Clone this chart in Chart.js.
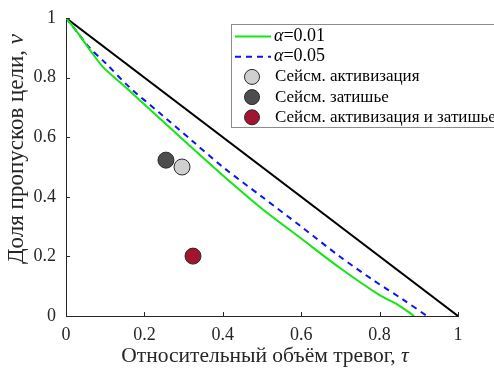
<!DOCTYPE html>
<html>
<head>
<meta charset="utf-8">
<script src="https://cdn.jsdelivr.net/npm/chart.js@4"></script>
<style>
  html, body { margin: 0; padding: 0; background: #fff; overflow: hidden; }
</style>
</head>
<body>
<canvas id="chart" width="494" height="369"></canvas>
<script>
// curves
const alpha01X = [0, 0.03, 0.06, 0.094, 0.15, 0.235, 0.3, 0.393, 0.5, 0.6, 0.699, 0.8, 0.85, 0.888];
const alpha01Y = [1, 0.95, 0.895, 0.836, 0.77, 0.668, 0.59, 0.48, 0.36, 0.26, 0.161, 0.07, 0.035, 0];
const alpha05X = [0, 0.03, 0.06, 0.1, 0.16, 0.24, 0.32, 0.4, 0.5, 0.6, 0.7, 0.783, 0.86, 0.921];
const alpha05Y = [1, 0.95, 0.9, 0.85, 0.77, 0.68, 0.59, 0.5, 0.4, 0.3, 0.198, 0.121, 0.055, 0];
const diagX = [0, 1];
const diagY = [1, 0];

// events
const eventLabels = ['Сейсм. активизация', 'Сейсм. затишье', 'Сейсм. активизация и затишье'];
const eventX = [0.296, 0.255, 0.324];
const eventY = [0.50, 0.523, 0.201];
const eventColors = ['#cfcfcf', '#4d4d4d', '#a2142f'];

const xTicks = [0, 0.2, 0.4, 0.6, 0.8, 1];
const yTicks = [0, 0.2, 0.4, 0.6, 0.8, 1];

// axis titles: plain part + italic symbol
const xTitle = ['Относительный объём тревог, ', 'τ'];
const yTitle = ['Доля пропусков цели, ', 'ν'];

const FONT = 'Liberation Serif';
const AXIS = '#262626';

Chart.defaults.font.family = FONT;

function pairs(xs, ys) {
    return xs.map((x, i) => ({ x: x, y: ys[i] }));
}

const datasets = [
    { label: 'α=0.01', data: pairs(alpha01X, alpha01Y), borderColor: '#14e614', borderWidth: 2, pointRadius: 0, tension: 0.3, showLine: true, fill: false },
    { label: 'α=0.05', data: pairs(alpha05X, alpha05Y), borderColor: '#0a14f0', borderWidth: 2, borderDash: [6, 5], pointRadius: 0, tension: 0.3, showLine: true, fill: false },
    { label: '', data: pairs(diagX, diagY), borderColor: '#000', borderWidth: 2, pointRadius: 0, showLine: true, fill: false, noLegend: true }
];
// dark one first so the light one sits on top, as in the picture
[1, 0, 2].forEach(i => {
    datasets.push({
        label: eventLabels[i],
        data: [{ x: eventX[i], y: eventY[i] }],
        backgroundColor: eventColors[i],
        borderColor: '#2a2a2a',
        borderWidth: 1,
        pointRadius: 8,
        showLine: false,
        legendOrder: i
    });
});

// inward tick marks
const innerTicks = {
    id: 'innerTicks',
    afterDraw(chart) {
        const ctx = chart.ctx;
        const a = chart.chartArea;
        ctx.save();
        ctx.strokeStyle = AXIS;
        ctx.lineWidth = 1;
        xTicks.forEach(v => {
            const px = Math.round(chart.scales.x.getPixelForValue(v)) + 0.5;
            ctx.beginPath();
            ctx.moveTo(px, a.bottom);
            ctx.lineTo(px, a.bottom - 4);
            ctx.stroke();
        });
        yTicks.forEach(v => {
            const py = Math.round(chart.scales.y.getPixelForValue(v)) + 0.5;
            ctx.beginPath();
            ctx.moveTo(a.left, py);
            ctx.lineTo(a.left + 4, py);
            ctx.stroke();
        });
        ctx.restore();
    }
};

// titles with an italic symbol at the end
function drawMixed(ctx, parts, size) {
    ctx.font = size + 'px "' + FONT + '"';
    const w1 = ctx.measureText(parts[0]).width;
    ctx.font = 'italic ' + size + 'px "' + FONT + '"';
    const w2 = ctx.measureText(parts[1]).width;
    const start = -(w1 + w2) / 2;
    ctx.font = size + 'px "' + FONT + '"';
    ctx.fillText(parts[0], start, 0);
    ctx.font = 'italic ' + size + 'px "' + FONT + '"';
    ctx.fillText(parts[1], start + w1, 0);
}

const axisTitles = {
    id: 'axisTitles',
    afterDraw(chart) {
        const ctx = chart.ctx;
        ctx.save();
        ctx.fillStyle = AXIS;
        ctx.textAlign = 'left';
        ctx.textBaseline = 'middle';
        ctx.save();
        ctx.translate(265, 356);
        drawMixed(ctx, xTitle, 21.5);
        ctx.restore();
        ctx.save();
        ctx.translate(17, 149);
        ctx.rotate(-Math.PI / 2);
        drawMixed(ctx, yTitle, 23);
        ctx.restore();
        ctx.restore();
    }
};

// boxed legend in the upper right, running off the canvas edge
const boxLegend = {
    id: 'boxLegend',
    afterDraw(chart) {
        const ctx = chart.ctx;
        const left = 231, top = 24, h = 103;
        ctx.save();
        ctx.fillStyle = '#fff';
        ctx.fillRect(left, top, 400, h);
        ctx.strokeStyle = '#8c8c8c';
        ctx.lineWidth = 1;
        ctx.strokeRect(left + 0.5, top + 0.5, 400, h);

        const items = chart.data.datasets.filter(ds => !ds.noLegend);
        items.sort((p, q) => {
            const a = p.showLine ? -1 : p.legendOrder;
            const b = q.showLine ? -1 : q.legendOrder;
            return a - b;
        });
        let y = 36.5;
        ctx.textBaseline = 'middle';
        items.forEach(ds => {
            if (ds.showLine) {
                ctx.strokeStyle = ds.borderColor;
                ctx.lineWidth = ds.borderWidth;
                ctx.setLineDash(ds.borderDash || []);
                ctx.beginPath();
                ctx.moveTo(235, y);
                ctx.lineTo(271, y);
                ctx.stroke();
                ctx.setLineDash([]);
                const parts = ds.label.split('=');
                ctx.fillStyle = '#000';
                ctx.font = 'italic 18px "' + FONT + '"';
                ctx.fillText(parts[0], 274, y);
                const w = ctx.measureText(parts[0]).width;
                ctx.font = '18px "' + FONT + '"';
                ctx.fillText('=' + parts[1], 274 + w, y);
            } else {
                ctx.beginPath();
                ctx.arc(252, y, 7.5, 0, Math.PI * 2);
                ctx.fillStyle = ds.backgroundColor;
                ctx.fill();
                ctx.strokeStyle = ds.borderColor;
                ctx.lineWidth = 1;
                ctx.stroke();
                ctx.fillStyle = '#000';
                ctx.font = '17px "' + FONT + '"';
                ctx.fillText(ds.label, 275, y);
            }
            y += 20.2;
        });
        ctx.restore();
    }
};

new Chart(document.getElementById('chart'), {
    type: 'scatter',
    data: { datasets: datasets },
    options: {
        responsive: false,
        animation: false,
        layout: { padding: { top: 18, right: 36, left: 0, bottom: 0 } },
        scales: {
            x: {
                type: 'linear', min: 0, max: 1,
                afterBuildTicks: s => { s.ticks = xTicks.map(v => ({ value: v })); },
                afterFit: s => { s.height = 53; },
                ticks: { color: AXIS, font: { family: FONT, size: 18 }, padding: 0, maxRotation: 0, callback: v => String(v) },
                grid: { display: false },
                border: { display: true, color: AXIS, width: 1 },
                title: { display: false }
            },
            y: {
                type: 'linear', min: 0, max: 1,
                afterBuildTicks: s => { s.ticks = yTicks.map(v => ({ value: v })); },
                afterFit: s => { s.width = 66; },
                ticks: { color: AXIS, font: { family: FONT, size: 18 }, padding: 2, callback: v => String(v) },
                grid: { display: false },
                border: { display: true, color: AXIS, width: 1 },
                title: { display: false }
            }
        },
        plugins: { legend: { display: false }, tooltip: { enabled: false } }
    },
    plugins: [innerTicks, axisTitles, boxLegend]
});
</script>
</body>
</html>
